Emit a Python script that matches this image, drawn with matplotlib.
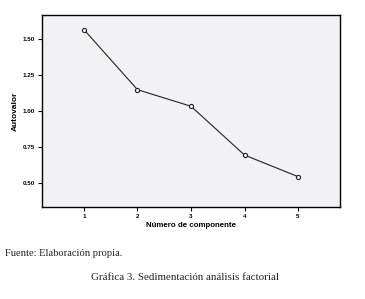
import matplotlib.pyplot as plt

# Scree plot data
componentes = [1, 2, 3, 4, 5]
autovalores = [1.565, 1.148, 1.033, 0.694, 0.544]
yticks = [0.50, 0.75, 1.00, 1.25, 1.50]

fig = plt.figure(figsize=(3.65, 2.99), dpi=100)
ax = fig.add_axes([42 / 365, 1 - 207 / 299, 298 / 365, 192 / 299])
ax.set_facecolor('#f2f2f5')

ax.plot(componentes, autovalores, color='#222222', lw=0.8,
        marker='o', ms=3, mfc='#f2f2f5', mec='#222222', mew=0.8)

ax.set_xlim(0.215, 5.785)
ax.set_ylim(0.333, 1.667)
ax.set_xticks(componentes)
ax.set_yticks(yticks)
ax.set_yticklabels([f'{v:.2f}' for v in yticks])
for s in ax.spines.values():
    s.set_linewidth(1.0)
ax.tick_params(labelsize=4.5, length=3, width=0.8, pad=2)
for lab in ax.get_xticklabels() + ax.get_yticklabels():
    lab.set_fontweight('bold')
    lab.set_family('Liberation Sans')

ax.set_xlabel('Número de componente', fontsize=5.7, fontweight='bold',
              family='Liberation Sans', labelpad=2)
ax.set_ylabel('Autovalor', fontsize=6, fontweight='bold',
              family='Liberation Sans', labelpad=3)

fig.text(5 / 365, 1 - 253 / 299, 'Fuente: Elaboración propia.', fontsize=7.6,
         family='Liberation Serif', va='center', color='#222222')
fig.text(185 / 365, 1 - 278 / 299, 'Gráfica 3. Sedimentación análisis factorial',
         fontsize=7.9, family='Liberation Serif', va='center', ha='center',
         color='#222222')

fig.savefig('out.png', dpi=100)
